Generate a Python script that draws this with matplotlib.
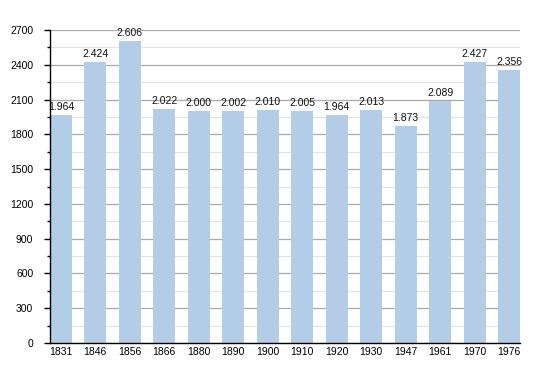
import matplotlib
matplotlib.use("Agg")
import matplotlib.pyplot as plt
from matplotlib.ticker import MultipleLocator

years = ["1831", "1846", "1856", "1866", "1880", "1890", "1900", "1910",
         "1920", "1930", "1947", "1961", "1970", "1976"]
population = [1964, 2424, 2606, 2022, 2000, 2002, 2010, 2005,
              1964, 2013, 1873, 2089, 2427, 2356]

plt.rcParams['font.family'] = ['Liberation Sans', 'DejaVu Sans']

fig = plt.figure(figsize=(5.5, 3.73), dpi=100)
ax = fig.add_axes([50/550, 1-343/373, 470/550, 313/373])

w = 0.627
x = list(range(len(years)))
ax.bar(x, population, width=w, color="#b3cde6", zorder=2)

for xi, v in zip(x, population):
    s = f"{v:,}".replace(",", ".")
    ax.text(xi, v + 25, s, ha="center", va="bottom", fontsize=7.5, color="#111111", zorder=3)

ax.set_xlim(-w/2, len(years) - 1 + w/2)
ax.set_ylim(0, 2700)
ax.set_xticks(x)
ax.set_xticklabels(years)
ax.yaxis.set_major_locator(MultipleLocator(300))
ax.yaxis.set_minor_locator(MultipleLocator(150))

ax.grid(axis="y", which="major", color="#aaaaaa", linewidth=0.9, zorder=0)
ax.grid(axis="y", which="minor", color="#e4e4e4", linewidth=0.8, zorder=0)
ax.set_axisbelow(True)

for side in ["top", "right"]:
    ax.spines[side].set_visible(False)
ax.spines["left"].set_color("black")
ax.spines["bottom"].set_color("black")
ax.spines["left"].set_linewidth(1.0)
ax.spines["bottom"].set_linewidth(1.0)

ax.tick_params(axis="x", length=0, labelsize=7.5, pad=3)
ax.tick_params(axis="y", which="major", length=4, width=1, labelsize=7.5, pad=8)
ax.tick_params(axis="y", which="minor", length=2.5, width=1)

fig.savefig("out.png", dpi=100)
